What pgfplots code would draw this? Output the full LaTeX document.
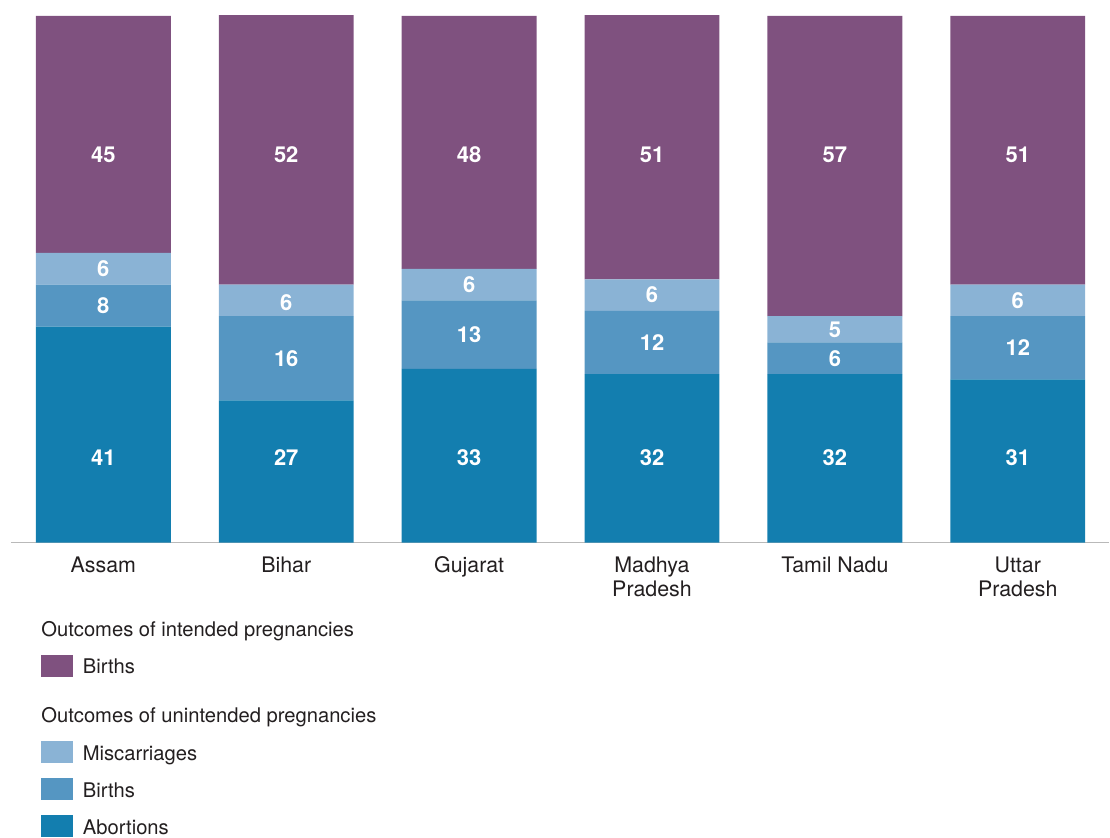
\documentclass[border=0pt]{standalone}
\usepackage{pgfplots}
\pgfplotsset{compat=1.18}
\usepackage{pgfplotstable}
\usepackage{fontspec}
\setmainfont{TeX Gyre Heros}
\definecolor{cPurple}{HTML}{7F517F}
\definecolor{cLight}{HTML}{8AB3D5}
\definecolor{cMid}{HTML}{5596C2}
\definecolor{cDark}{HTML}{137EAF}
\definecolor{cText}{HTML}{231F20}

\pgfplotstableread{
x abort ubirth misc ibirth
0 41 8 6 45
1 27 16 6 52
2 33 13 6 48
3 32 12 6 51
4 32 6 5 57
5 31 12 6 51
}\data

% label positions (value-axis units) and texts
\pgfplotstableread{
x y lab
0 16.1 41
1 16.1 27
2 16.1 33
3 16.1 32
4 16.1 32
5 16.1 31
}\labAbort
\pgfplotstableread{
x y lab
0 45 8
1 35 16
2 39.5 13
3 38 12
4 35 6
5 37 12
}\labUbirth
\pgfplotstableread{
x y lab
0 52 6
1 45.5 6
2 49 6
3 47 6
4 40.5 5
5 46 6
}\labMisc
\pgfplotstableread{
x y lab
0 73.6 45
1 73.6 52
2 73.6 48
3 73.6 51
4 73.6 57
5 73.6 51
}\labIbirth

\begin{document}
\begin{tikzpicture}
\begin{scope}[x=0.5pt,y=-0.5pt]
\path[use as bounding box] (0,0) rectangle (1110,838);
\end{scope}

\pgfplotsset{
  common/.style={
    scale only axis, width=549.5pt, height=263.5pt,
    at={(5.5pt,-271.5pt)}, anchor=south west,
    xmin=-0.505, xmax=5.5, ymin=0, ymax=100,
  }
}

\begin{axis}[common,
  ybar stacked, bar width=67.5pt,
  axis x line*=bottom, axis y line=none,
  x axis line style={draw=gray!55, line width=0.8pt, -},
  xtick={0,1,2,3,4,5},
  xticklabels={Assam, Bihar, Gujarat, Madhya\\Pradesh, Tamil Nadu, Uttar\\Pradesh},
  major tick length=0pt,
  xticklabel style={align=center, anchor=north, inner sep=0pt, yshift=-7pt,
    text=cText, font={\fontsize{10.7}{12}\selectfont}},
  clip=true,
]
\addplot[fill=cDark, draw=none] table[x=x,y=abort]{\data};
\addplot[fill=cMid, draw=none] table[x=x,y=ubirth]{\data};
\addplot[fill=cLight, draw=none] table[x=x,y=misc]{\data};
\addplot[fill=cPurple, draw=none] table[x=x,y=ibirth]{\data};
\end{axis}

\begin{axis}[common, hide axis, clip=false,
  nodes near coords, point meta=explicit symbolic,
  every node near coord/.style={anchor=center, text=white,
    font={\fontsize{11}{13}\selectfont\bfseries}},
]
\addplot[draw=none, mark=none, nodes near coords] table[x=x,y=y,meta=lab]{\labAbort};
\addplot[draw=none, mark=none, nodes near coords] table[x=x,y=y,meta=lab]{\labUbirth};
\addplot[draw=none, mark=none, nodes near coords] table[x=x,y=y,meta=lab]{\labMisc};
\addplot[draw=none, mark=none, nodes near coords] table[x=x,y=y,meta=lab]{\labIbirth};
\end{axis}

\begin{scope}[x=0.5pt,y=-0.5pt, every node/.style={inner sep=0pt, anchor=base west, text=cText, font={\fontsize{10.1}{12}\selectfont}}]
\node at (41,637) {Outcomes of intended pregnancies};
\fill[cPurple] (41,655) rectangle (73,677);
\node at (82.5,674) {Births};
\node at (41,723) {Outcomes of unintended pregnancies};
\fill[cLight] (41,742) rectangle (73,764);
\node at (82.5,761) {Miscarriages};
\fill[cMid] (41,779) rectangle (73,801);
\node at (82.5,798) {Births};
\fill[cDark] (41,816) rectangle (73,838);
\node at (82.5,835) {Abortions};
\end{scope}
\end{tikzpicture}
\end{document}
